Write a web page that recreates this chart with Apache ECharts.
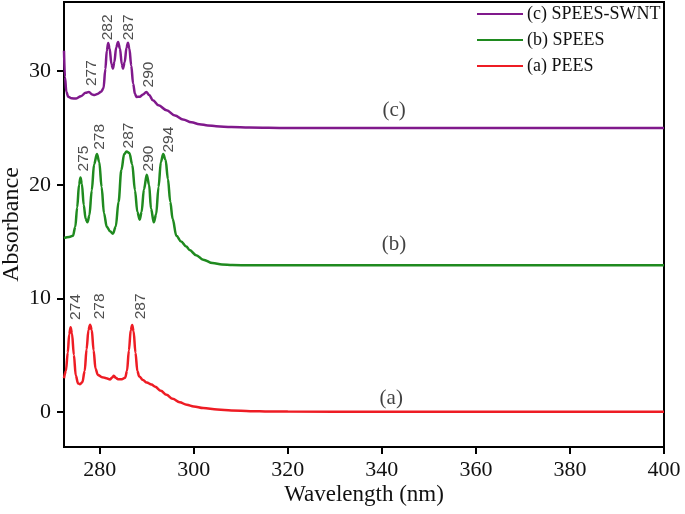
<!DOCTYPE html>
<html>
<head>
<meta charset="utf-8">
<script src="https://cdn.jsdelivr.net/npm/echarts@6/dist/echarts.min.js"></script>
<style>html,body{margin:0;padding:0;background:#fff}#chart{width:685px;height:514px}</style>
</head>
<body>
<div id="chart"></div>
<script>
// ---- data ----
const seriesNames = ['(c) SPEES-SWNT', '(b) SPEES', '(a) PEES'];

const wlA  = [272.4,272.8,273.2,273.5,273.8,274.1,274.5,274.9,275.4,275.8,276.3,276.8,277.2,277.6,277.95,278.3,278.7,279.1,279.6,280.5,281.4,282.2,282.7,283.0,283.4,283.9,284.7,285.4,285.8,286.2,286.6,286.9,287.2,287.6,288.0,288.4,289.2,290.0,291.0,291.8,293.0,294.2,295.5,297.0,298.5,300,302,305,308,312,316,320,340,400];
const absA = [2.96,3.6,5.2,6.8,7.45,6.9,5.0,3.2,2.5,2.43,2.6,3.6,5.5,7.2,7.68,7.2,5.4,3.8,3.25,3.05,2.96,2.85,3.05,3.17,3.0,2.87,2.87,2.99,3.6,5.4,7.2,7.65,7.1,5.2,3.6,3.1,2.8,2.58,2.4,2.2,1.85,1.5,1.15,0.85,0.62,0.47,0.33,0.2,0.12,0.06,0.03,0.02,0.01,0.0];

const wlB  = [272.4,273.5,274.3,274.8,275.2,275.6,275.9,276.2,276.6,277.0,277.4,277.8,278.3,278.8,279.4,279.9,280.4,280.9,281.5,282.2,282.8,283.4,284.0,284.6,285.2,285.7,286.3,286.9,287.5,288.0,288.5,288.9,289.4,290.0,290.5,290.9,291.5,292.0,292.5,293.0,293.5,294.0,294.5,295.0,295.5,296.3,297.3,298.4,299.1,300.5,302.0,304.0,306,308.2,312,320,400];
const absB = [15.31,15.4,15.5,16.3,18.0,20.0,20.64,20.1,18.2,17.0,16.69,17.3,19.5,21.8,22.7,22.0,19.8,17.5,16.3,15.9,15.69,16.3,18.5,21.3,22.7,22.93,22.8,21.8,19.5,17.6,16.92,17.6,19.6,20.88,20.0,17.9,16.69,17.4,19.8,22.0,22.7,22.2,20.5,18.5,17.0,15.5,15.0,14.57,14.25,13.8,13.4,13.1,12.98,12.93,12.9,12.9,12.9];

const wlC  = [272.4,272.6,272.9,273.3,274.0,275.0,276.0,277.0,277.7,278.4,278.9,279.5,280.3,280.8,281.2,281.5,281.8,282.1,282.5,282.8,283.1,283.5,283.9,284.3,284.7,284.95,285.3,285.7,286.0,286.3,286.7,287.1,287.5,287.8,288.5,289.2,289.9,290.5,291.3,292.5,294.2,296,297.7,299.5,301.2,303,304.75,308,311.8,320,400];
const absC = [31.8,29.5,28.2,27.75,27.62,27.6,27.8,28.1,28.18,27.95,27.9,28.0,28.2,28.5,30.2,31.8,32.49,32.0,30.6,30.23,30.8,32.1,32.58,32.0,30.6,30.23,30.8,32.1,32.52,32.0,30.5,28.9,28.0,27.74,27.75,27.95,28.18,27.9,27.45,27.0,26.57,26.1,25.75,25.5,25.34,25.22,25.16,25.08,25.05,25.0,25.0];

// peak annotations: anchor wavelength, anchor absorbance, text
const peakLabelX    = [274.9, 279.9, 288.7, 276.5, 280.1, 286.2, 290.4, 294.75, 278.2, 281.6, 286.2, 290.4];
const peakLabelY    = [8.09, 8.15, 8.15, 21.17, 23.08, 23.2, 21.17, 22.84, 28.7, 32.73, 32.73, 28.57];
const peakLabelText = ['274','278','287','275','278','287','290','294','277','282','287','290'];

// curve tags
const tagX    = [342.6, 342.6, 342.0];
const tagY    = [26.5, 14.7, 1.14];
const tagText = ['(c)', '(b)', '(a)'];

const xTicks = [280, 300, 320, 340, 360, 380, 400];
const yTicks = [0, 10, 20, 30];

const colors = ['#80198c', '#1f8a1f', '#ee1c24'];

const zip = (xs, ys) => xs.map((x, i) => [x, ys[i]]);

const serif = 'Liberation Serif, Times New Roman, serif';
const sans = 'Liberation Sans, Arial, sans-serif';

const chart = echarts.init(document.getElementById('chart'), null, {renderer: 'canvas'});

const lineSeries = [[wlC, absC], [wlB, absB], [wlA, absA]].map((d, i) => ({
  name: seriesNames[i],
  type: 'line',
  data: zip(d[0], d[1]),
  symbol: 'none',
  smooth: 0.35,
  smoothMonotone: 'x',
  lineStyle: {color: colors[i], width: 2.5},
  itemStyle: {color: colors[i]},
  z: 3 - i,
  silent: true
}));

const option = {
  animation: false,
  backgroundColor: '#fff',
  grid: {left: 64, right: 21, top: 2, bottom: 67, show: true, borderColor: '#000', borderWidth: 2,
         backgroundColor: 'transparent', containLabel: false, outerBoundsMode: 'none'},
  legend: {
    data: seriesNames,
    orient: 'vertical',
    left: 477,
    top: 5,
    padding: 0,
    itemWidth: 46,
    itemHeight: 18,
    itemGap: 8,
    icon: 'path://M0,0 L46,0 L46,2 L0,2 Z',
    textStyle: {fontFamily: serif, fontSize: 18, color: '#111', padding: [0, 0, 0, -1]}
  },
  xAxis: {
    type: 'value',
    min: 272.4,
    max: 400,
    name: 'Wavelength (nm)',
    nameLocation: 'middle',
    nameGap: 36,
    nameMoveOverlap: false,
    nameTextStyle: {fontFamily: serif, fontSize: 23, color: '#111'},
    axisLine: {show: true, onZero: false, lineStyle: {color: '#000', width: 2}},
    axisTick: {show: true, inside: false, length: 7, lineStyle: {color: '#000', width: 2}, customValues: xTicks},
    axisLabel: {fontFamily: serif, fontSize: 22, color: '#111', margin: 12, customValues: xTicks},
    splitLine: {show: false}
  },
  yAxis: {
    type: 'value',
    min: -3.1,
    max: 36.1,
    name: 'Absorbance',
    nameLocation: 'middle',
    nameGap: 40,
    nameMoveOverlap: false,
    nameTextStyle: {fontFamily: serif, fontSize: 24, color: '#111'},
    axisLine: {show: true, onZero: false, lineStyle: {color: '#000', width: 2}},
    axisTick: {show: true, inside: false, length: 7, lineStyle: {color: '#000', width: 2}, customValues: yTicks},
    axisLabel: {fontFamily: serif, fontSize: 22, color: '#111', margin: 13, customValues: yTicks},
    splitLine: {show: false}
  },
  series: lineSeries.concat([
    {
      type: 'scatter',
      silent: true,
      symbolSize: 0,
      data: peakLabelX.map((x, i) => [x, peakLabelY[i], peakLabelText[i]]),
      label: {
        show: true,
        position: 'inside',
        rotate: 90,
        align: 'left',
        verticalAlign: 'middle',
        formatter: p => p.value[2],
        fontFamily: sans,
        fontSize: 15.5,
        color: '#222'
      },
      z: 5
    },
    {
      type: 'scatter',
      silent: true,
      symbolSize: 0,
      data: tagX.map((x, i) => [x, tagY[i], tagText[i]]),
      label: {
        show: true,
        position: 'inside',
        align: 'center',
        verticalAlign: 'middle',
        formatter: p => p.value[2],
        fontFamily: serif,
        fontSize: 21,
        color: '#111'
      },
      z: 5
    }
  ])
};
chart.setOption(option);
</script>
</body>
</html>
